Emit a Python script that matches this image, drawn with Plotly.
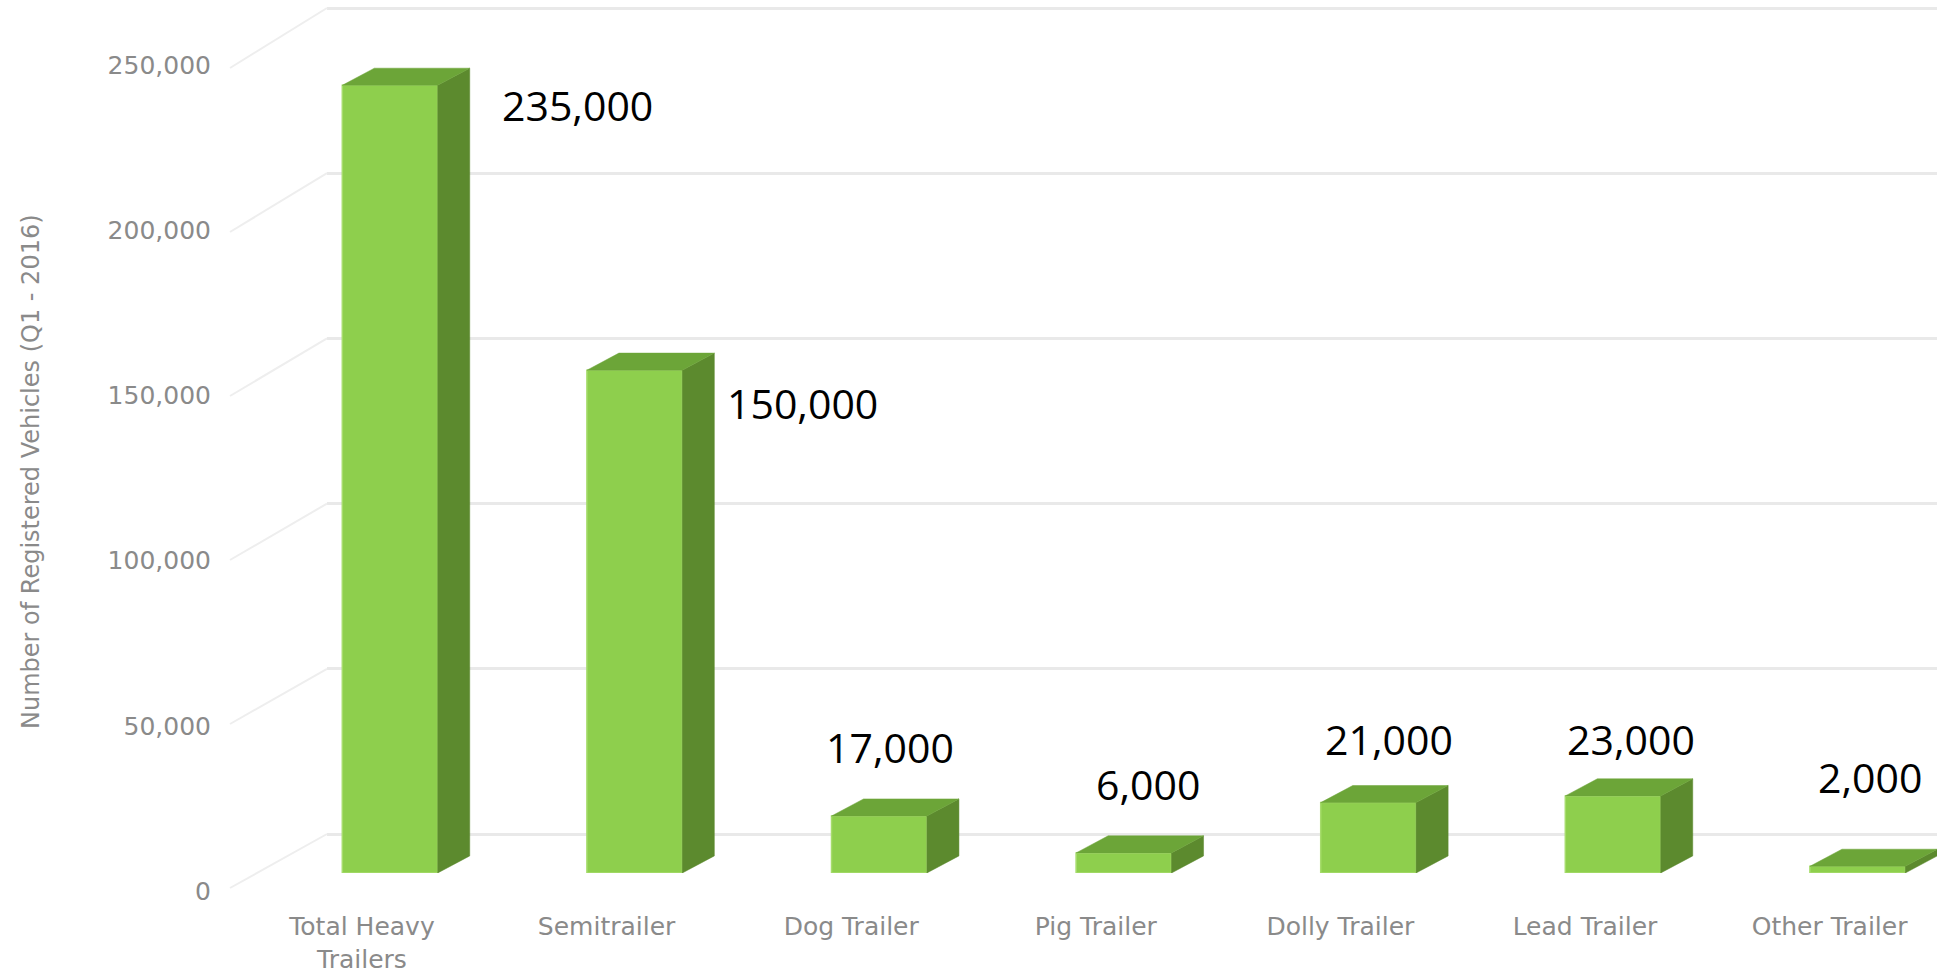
import plotly.graph_objects as go

# ---- data -----------------------------------------------------------------
categories = ["Total Heavy<br>Trailers", "Semitrailer", "Dog Trailer", "Pig Trailer",
              "Dolly Trailer", "Lead Trailer", "Other Trailer"]
registered = [235000, 150000, 17000, 6000, 21000, 23000, 2000]
y_ticks = [0, 50000, 100000, 150000, 200000, 250000]
y_title = "Number of Registered Vehicles (Q1 - 2016)"

# ---- geometry / style -------------------------------------------------------
W, H = 1937, 978


def py(p):
    return 1 - p / H


def px(p):
    return p / W


FRONT = "#8ecf4d"
EDGE = "#a6dc6c"
SIDE = "#5c8a2e"
TOP = "#6ca538"
GRID = "#e9e9e9"
SIDE_GRID = "#eeeeee"
AXIS_TXT = "#8a8a8a"

BAR_W = 0.39        # front face width, in category units
DEPTH_X = 0.131     # extrusion to the right, category units
DEPTH_Y = 5100      # extrusion upwards, value units

# pixel placement of the data labels relative to each bar's top-centre
label_shift = [(187, -20), (168, -33), (11, 69), (24, 69), (21, 64), (18, 57), (12, 89)]

idx = list(range(len(categories)))

# side and top faces of the extruded columns
side_x, side_y, top_x, top_y = [], [], [], []
for i, v in zip(idx, registered):
    l, r = i - BAR_W / 2, i + BAR_W / 2
    side_x += [r, r + DEPTH_X, r + DEPTH_X, r, r, None]
    side_y += [0, DEPTH_Y, v + DEPTH_Y, v, 0, None]
    top_x += [l, l + DEPTH_X, r + DEPTH_X, r, l, None]
    top_y += [v, v + DEPTH_Y, v + DEPTH_Y, v, v, None]

fig = go.Figure()

FRONT_Y0, FRONT_Y1 = 888, 68     # pixel y of 0 and max at the front edge
BACK_Y0, BACK_Y1 = 834, 8        # pixel y of 0 and max on the back wall
FRONT_X, BACK_X = 230, 327
vmax = y_ticks[-1]
back_scale = (BACK_Y0 - BACK_Y1) / vmax     # px per unit on the back wall
PAD = 6                                      # keeps the edge gridlines inside

# back wall (gridlines only)
fig.add_trace(go.Scatter(x=[0.5], y=[vmax / 2], mode="markers", marker=dict(opacity=0),
                         hoverinfo="skip", xaxis="x", yaxis="y"))

# side wall: slanted guide lines from the value labels back to the rear wall
wall_x, wall_y = [], []
for t in y_ticks:
    wall_x += [FRONT_X, BACK_X, None]
    wall_y += [FRONT_Y0 - t * (FRONT_Y0 - FRONT_Y1) / vmax,
               BACK_Y0 - t * back_scale, None]
fig.add_trace(go.Scatter(x=wall_x, y=wall_y, mode="lines",
                         line=dict(color=SIDE_GRID, width=2),
                         hoverinfo="skip", xaxis="x2", yaxis="y2"))

# value-label axis
fig.add_trace(go.Scatter(x=[0.5], y=[0], mode="markers", marker=dict(opacity=0),
                         hoverinfo="skip", xaxis="x3", yaxis="y3"))

# columns
fig.add_trace(go.Bar(x=idx, y=registered, width=BAR_W,
                     marker=dict(color=FRONT, line=dict(color=EDGE, width=1.5)),
                     hoverinfo="skip", xaxis="x4", yaxis="y4"))
fig.add_trace(go.Scatter(x=side_x, y=side_y, mode="lines", fill="toself",
                         fillcolor=SIDE, line=dict(color=SIDE, width=0.5),
                         hoverinfo="skip", xaxis="x4", yaxis="y4"))
fig.add_trace(go.Scatter(x=top_x, y=top_y, mode="lines", fill="toself",
                         fillcolor=TOP, line=dict(color=TOP, width=0.5),
                         hoverinfo="skip", xaxis="x4", yaxis="y4"))

# data labels
for i, v, (dx, dy) in zip(idx, registered, label_shift):
    fig.add_annotation(x=i, y=v, xref="x4", yref="y4", text=f"{v:,}",
                       showarrow=False, xshift=dx, yshift=dy,
                       xanchor="center", yanchor="middle",
                       font=dict(family="Open Sans", size=41, color="#000000"))

# y-axis title
fig.add_annotation(x=px(31), y=py(472), xref="paper", yref="paper",
                   text=y_title, textangle=-90, showarrow=False,
                   xanchor="center", yanchor="middle",
                   font=dict(family="DejaVu Sans", size=24, color=AXIS_TXT))

axis_font = dict(family="DejaVu Sans", size=25, color=AXIS_TXT)
spacing = 244.6
x0 = -390 / spacing

fig.update_layout(
    width=W, height=H,
    margin=dict(l=0, r=0, t=0, b=0, autoexpand=False),
    paper_bgcolor="white", plot_bgcolor="rgba(0,0,0,0)",
    showlegend=False,
    # back wall
    xaxis=dict(domain=[px(BACK_X), 1], range=[0, 1], anchor="y", visible=False,
               automargin=False),
    yaxis=dict(domain=[py(BACK_Y0 + PAD), py(BACK_Y1 - PAD)],
               range=[-PAD / back_scale, vmax + PAD / back_scale], anchor="x",
               tickvals=y_ticks, showticklabels=False, ticks="",
               showgrid=True, gridcolor=GRID, gridwidth=3,
               zeroline=False, showline=False, automargin=False),
    # pixel canvas for the side wall
    xaxis2=dict(domain=[0, 1], range=[0, W], anchor="y2", visible=False, automargin=False),
    yaxis2=dict(domain=[0, 1], range=[H, 0], anchor="x2", visible=False, automargin=False),
    # value labels on the front edge
    xaxis3=dict(domain=[px(212), px(BACK_X)], range=[0, 1], anchor="y3", visible=False,
                automargin=False),
    yaxis3=dict(domain=[py(891), py(65)], range=[0, vmax], anchor="x3",
                tickvals=y_ticks, tickformat=",", ticks="",
                showgrid=False, zeroline=False, showline=False, tickfont=axis_font,
                automargin=False),
    # columns + category labels
    xaxis4=dict(domain=[0, 1], range=[x0, x0 + W / spacing], anchor="y4",
                tickvals=idx, ticktext=categories, ticks="",
                ticklabelshift=-28, ticklabelstandoff=36,
                showgrid=False, zeroline=False, showline=False, tickfont=axis_font,
                automargin=False),
    yaxis4=dict(domain=[py(873), py(873 - 838)], range=[0, 250000], anchor="x4",
                visible=False, automargin=False),
)

fig.write_html("out.html")
